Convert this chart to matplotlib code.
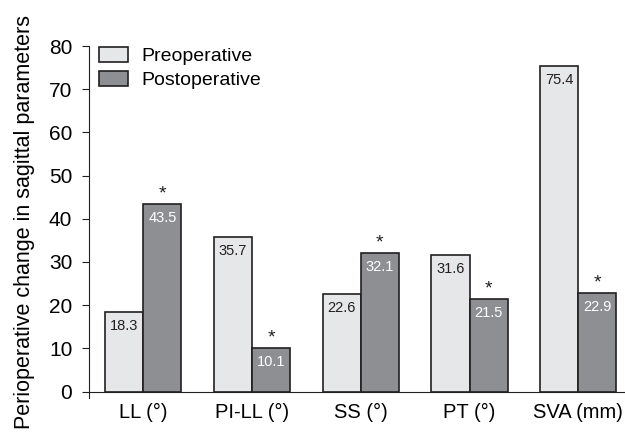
import matplotlib
matplotlib.use("Agg")
import matplotlib.pyplot as plt
import numpy as np

categories = ["LL (°)", "PI-LL (°)", "SS (°)", "PT (°)", "SVA (mm)"]
preoperative = [18.3, 35.7, 22.6, 31.6, 75.4]
postoperative = [43.5, 10.1, 32.1, 21.5, 22.9]
significant = [True, True, True, True, True]

plt.rcParams['font.family'] = ['Liberation Sans', 'DejaVu Sans']

fig = plt.figure(figsize=(6.25, 4.32), dpi=100)
ax = fig.add_axes([0.1424, 0.0787, 0.8576, 0.8148])

x = np.arange(len(categories))
w = 0.35
edge = '#231f20'
b1 = ax.bar(x - w/2, preoperative, w, color='#e6e7e9', edgecolor=edge, linewidth=1.2, label='Preoperative')
b2 = ax.bar(x + w/2, postoperative, w, color='#8e8f92', edgecolor=edge, linewidth=1.2, label='Postoperative')

for xi, v in zip(x - w/2, preoperative):
    ax.annotate(f"{v}", (xi, v), xytext=(0, -5), textcoords='offset points',
                ha='center', va='top', fontsize=10.5, color='#231f20')
for xi, v, s in zip(x + w/2, postoperative, significant):
    ax.annotate(f"{v}", (xi, v), xytext=(0, -5), textcoords='offset points',
                ha='center', va='top', fontsize=10.5, color='white')
    if s:
        ax.annotate("*", (xi, v), xytext=(0, 1), textcoords='offset points',
                    ha='center', va='bottom', fontsize=14, color='#231f20')

ax.set_xlim(-0.5, 4.43)
ax.set_ylim(-1.5, 80)
ax.set_yticks(np.arange(0, 81, 10))
ax.set_xticks(x)
ax.set_xticklabels(categories)
ax.tick_params(axis='y', labelsize=15, direction='out', length=5, color=edge, pad=7)
ax.tick_params(axis='x', labelsize=14.5, length=0, pad=8)
ax.spines['top'].set_visible(False)
ax.spines['right'].set_visible(False)
ax.spines['bottom'].set_position(('data', 0))
ax.spines['left'].set_color(edge)
ax.spines['bottom'].set_color(edge)
ax.set_ylabel("Perioperative change in sagittal parameters", fontsize=15.5, labelpad=10)

leg = ax.legend(loc='upper left', bbox_to_anchor=(0.0187, 0.998), frameon=False, fontsize=14,
                handlelength=1.5, handleheight=0.8, labelspacing=0.3, handletextpad=0.7,
                borderpad=0, borderaxespad=0)

fig.savefig("out.png", dpi=100)
